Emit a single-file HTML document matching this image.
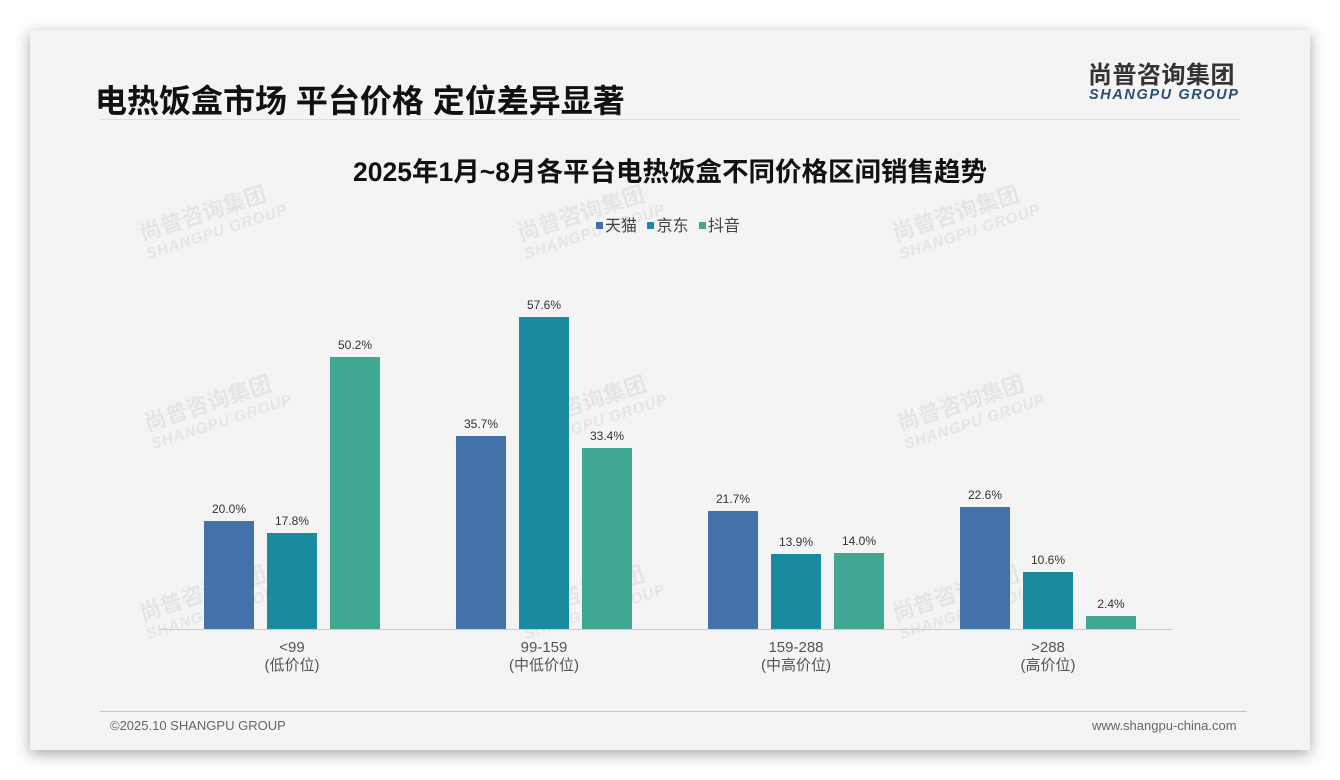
<!DOCTYPE html><html><head><meta charset="utf-8"><style>
body{margin:0;width:1340px;height:780px;background:#fff;font-family:"Liberation Sans","Noto Sans CJK SC",sans-serif;position:relative;overflow:hidden}
.card{position:absolute;left:30px;top:30px;width:1280px;height:720px;background:#f4f4f4;box-shadow:0 4px 14px rgba(0,0,0,.35)}
.a{position:absolute;white-space:nowrap}
.bar{position:absolute;width:50px}
.v{position:absolute;width:70px;text-align:center;font-size:12px;color:#333}
.x{position:absolute;width:200px;text-align:center;font-size:15px;color:#555;line-height:18px}
.wm{position:absolute;color:rgba(0,0,0,.06);font-weight:bold;transform:rotate(-18deg);font-size:22px;line-height:22px}
.wm span{display:block;font-size:15px;font-style:italic;letter-spacing:1px}
.lg{display:inline-block;width:7px;height:7px;margin:0 2px 2px 6px}
</style></head><body>
<div class="card"></div>
<div class="a" style="left:95px;top:76px;font-size:32px;font-weight:bold;color:#111">电热饭盒市场 平台价格 定位差异显著</div>
<div class="a" style="left:1088px;top:64px;font-size:24px;line-height:24px;font-weight:bold;color:#333;letter-spacing:0.5px">尚普咨询集团</div>
<div class="a" style="left:1089px;top:88px;font-size:14.5px;line-height:15px;font-weight:bold;font-style:italic;color:#2c4e75;letter-spacing:1.6px">SHANGPU GROUP</div>
<div class="a" style="left:100px;top:119px;width:1140px;height:1px;background:#ddd"></div>
<div class="a" style="left:0;width:1340px;text-align:center;top:150px;font-size:26.5px;font-weight:bold;color:#111">2025年1月~8月各平台电热饭盒不同价格区间销售趋势</div>
<div class="a" style="left:590px;top:212px;font-size:16px;color:#444"><span class="lg" style="background:#4472a8"></span>天猫 <span class="lg" style="background:#1a8aa0"></span>京东 <span class="lg" style="background:#40a793"></span>抖音</div>
<div class="wm" style="left:140px;top:200px">尚普咨询集团<span>SHANGPU GROUP</span></div>
<div class="wm" style="left:518px;top:200px">尚普咨询集团<span>SHANGPU GROUP</span></div>
<div class="wm" style="left:893px;top:200px">尚普咨询集团<span>SHANGPU GROUP</span></div>
<div class="wm" style="left:145px;top:390px">尚普咨询集团<span>SHANGPU GROUP</span></div>
<div class="wm" style="left:520px;top:390px">尚普咨询集团<span>SHANGPU GROUP</span></div>
<div class="wm" style="left:898px;top:390px">尚普咨询集团<span>SHANGPU GROUP</span></div>
<div class="wm" style="left:140px;top:580px">尚普咨询集团<span>SHANGPU GROUP</span></div>
<div class="wm" style="left:518px;top:580px">尚普咨询集团<span>SHANGPU GROUP</span></div>
<div class="wm" style="left:893px;top:580px">尚普咨询集团<span>SHANGPU GROUP</span></div>
<div class="a" style="left:160px;top:629px;width:1012px;height:1px;background:#ccc"></div>

<div class="bar" style="left:204px;top:521px;height:108px;background:#4472a8"></div><div class="v" style="left:194px;top:502px">20.0%</div>
<div class="bar" style="left:267px;top:533px;height:96px;background:#1a8aa0"></div><div class="v" style="left:257px;top:514px">17.8%</div>
<div class="bar" style="left:330px;top:357px;height:272px;background:#40a793"></div><div class="v" style="left:320px;top:338px">50.2%</div>

<div class="bar" style="left:456px;top:436px;height:193px;background:#4472a8"></div><div class="v" style="left:446px;top:417px">35.7%</div>
<div class="bar" style="left:519px;top:317px;height:312px;background:#1a8aa0"></div><div class="v" style="left:509px;top:298px">57.6%</div>
<div class="bar" style="left:582px;top:448px;height:181px;background:#40a793"></div><div class="v" style="left:572px;top:429px">33.4%</div>

<div class="bar" style="left:708px;top:511px;height:118px;background:#4472a8"></div><div class="v" style="left:698px;top:492px">21.7%</div>
<div class="bar" style="left:771px;top:554px;height:75px;background:#1a8aa0"></div><div class="v" style="left:761px;top:535px">13.9%</div>
<div class="bar" style="left:834px;top:553px;height:76px;background:#40a793"></div><div class="v" style="left:824px;top:534px">14.0%</div>

<div class="bar" style="left:960px;top:507px;height:122px;background:#4472a8"></div><div class="v" style="left:950px;top:488px">22.6%</div>
<div class="bar" style="left:1023px;top:572px;height:57px;background:#1a8aa0"></div><div class="v" style="left:1013px;top:553px">10.6%</div>
<div class="bar" style="left:1086px;top:616px;height:13px;background:#40a793"></div><div class="v" style="left:1076px;top:597px">2.4%</div>

<div class="x" style="left:192px;top:639px">&lt;99<br>(低价位)</div>
<div class="x" style="left:444px;top:639px">99-159<br>(中低价位)</div>
<div class="x" style="left:696px;top:639px">159-288<br>(中高价位)</div>
<div class="x" style="left:948px;top:639px">&gt;288<br>(高价位)</div>

<div class="a" style="left:100px;top:711px;width:1147px;height:1px;background:#b8c8d8"></div>
<div class="a" style="left:110px;top:718px;font-size:13px;color:#666">©2025.10 SHANGPU GROUP</div>
<div class="a" style="left:1092px;top:718px;font-size:13px;color:#666">www.shangpu-china.com</div>
</body></html>
